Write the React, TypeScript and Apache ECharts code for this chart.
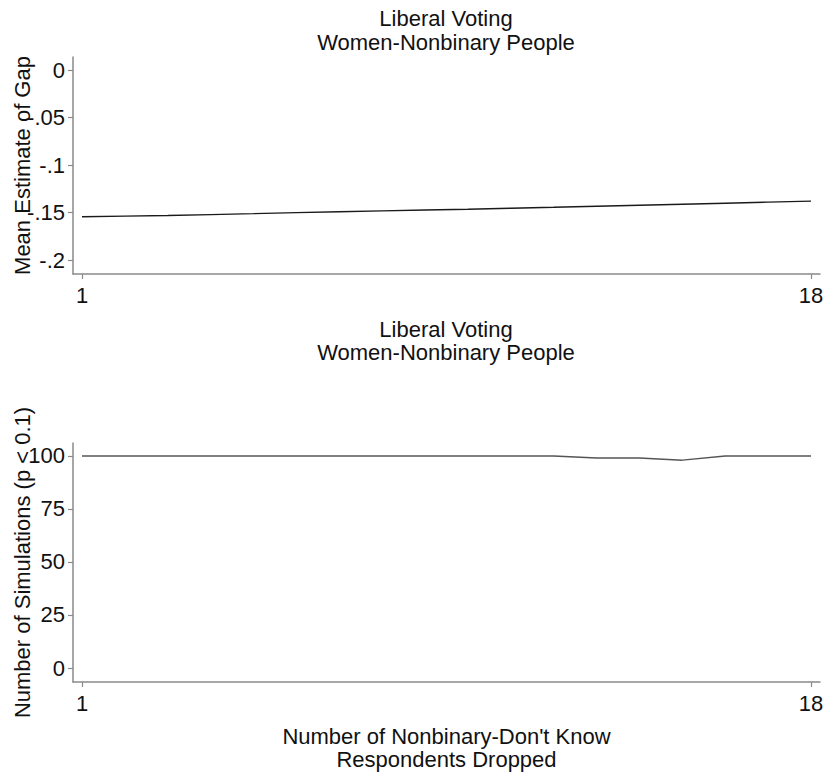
import React, { useEffect, useRef } from "react";
import * as echarts from "echarts";

const dropped = [1, 2, 3, 4, 5, 6, 7, 8, 9, 10, 11, 12, 13, 14, 15, 16, 17, 18];
const meanGap = [-0.1544, -0.1538, -0.1532, -0.1522, -0.1512, -0.1501, -0.1492, -0.1483, -0.1474, -0.1465, -0.1455, -0.1445, -0.1434, -0.1424, -0.1413, -0.1402, -0.1391, -0.138];
const simsSignificant = [100, 100, 100, 100, 100, 100, 100, 100, 100, 100, 100, 100, 99, 99, 98, 100, 100, 100];
const gapTicks = [0, -0.05, -0.1, -0.15, -0.2];
const simTicks = [0, 25, 50, 75, 100];
const xTicks = [1, 18];
const titleLines = ["Liberal Voting", "Women-Nonbinary People"];

const FONT = "'Liberation Sans', Arial, sans-serif";
const FS = 22;

function fmtGap(v: number) {
  if (v === 0) return "0";
  const s = String(Math.round(v * 100) / 100);
  return s.replace("0.", ".");
}

export default function App() {
  const ref = useRef<HTMLDivElement>(null);
  useEffect(() => {
    document.body.style.margin = "0";
    const chart = echarts.init(ref.current!, null, { renderer: "svg" });
    const axisLine = { show: true, lineStyle: { color: "#8a8a8a", width: 1.5 } };
    const axisTick = (vals: number[]) => ({ show: true, length: 5, lineStyle: { color: "#8a8a8a", width: 1.2 }, customValues: vals });
    const xAxisBase = (idx: number) => ({
      type: "value",
      gridIndex: idx,
      min: 0.79,
      max: 18.21,
      axisLine: { ...axisLine, onZero: false },
      axisTick: axisTick(xTicks),
      axisLabel: { customValues: xTicks, fontFamily: FONT, fontSize: FS, color: "#111", margin: 10 },
      splitLine: { show: false },
    });
    const titleText = (y: number, s: string) => ({
      type: "text",
      x: 446,
      y,
      style: { text: s, fontFamily: FONT, fontSize: FS, fill: "#111", align: "center", verticalAlign: "middle" },
    });
    chart.setOption({
      animation: false,
      backgroundColor: "#fff",
      graphic: [
        titleText(18, titleLines[0]),
        titleText(42, titleLines[1]),
        titleText(329, titleLines[0]),
        titleText(352, titleLines[1]),
      ],
      grid: [
        { left: 73, top: 57, width: 747, height: 217, outerBoundsMode: "none", containLabel: false },
        { left: 73, top: 443, width: 747, height: 239, outerBoundsMode: "none", containLabel: false },
      ],
      xAxis: [
        xAxisBase(0),
        {
          ...xAxisBase(1),
          name: "Number of Nonbinary-Don't Know\nRespondents Dropped",
          nameLocation: "middle",
          nameGap: 43,
          nameMoveOverlap: false,
          nameTextStyle: { fontFamily: FONT, fontSize: FS, color: "#111", lineHeight: 23 },
        },
      ],
      yAxis: [
        {
          type: "value",
          gridIndex: 0,
          min: -0.2147,
          max: 0.0137,
          axisLine,
          axisTick: axisTick(gapTicks),
          axisLabel: { customValues: gapTicks, formatter: (v: number) => fmtGap(v), fontFamily: FONT, fontSize: FS, color: "#111", margin: 8 },
          splitLine: { show: false },
          name: "Mean Estimate of Gap",
          nameLocation: "middle",
          nameGap: 40,
          nameMoveOverlap: false,
          nameTextStyle: { fontFamily: FONT, fontSize: FS, color: "#111" },
        },
        {
          type: "value",
          gridIndex: 1,
          min: -6.6,
          max: 106.1,
          axisLine,
          axisTick: axisTick(simTicks),
          axisLabel: { customValues: simTicks, fontFamily: FONT, fontSize: FS, color: "#111", margin: 8 },
          splitLine: { show: false },
          name: "Number of Simulations (p < 0.1)",
          nameLocation: "middle",
          nameGap: 40,
          nameMoveOverlap: false,
          nameTextStyle: { fontFamily: FONT, fontSize: FS, color: "#111" },
        },
      ],
      series: [
        {
          type: "line",
          xAxisIndex: 0,
          yAxisIndex: 0,
          data: dropped.map((d, i) => [d, meanGap[i]]),
          showSymbol: false,
          lineStyle: { color: "#1a1a1a", width: 1.4 },
        },
        {
          type: "line",
          xAxisIndex: 1,
          yAxisIndex: 1,
          data: dropped.map((d, i) => [d, simsSignificant[i]]),
          showSymbol: false,
          lineStyle: { color: "#555", width: 1.4 },
        },
      ],
    });
    return () => chart.dispose();
  }, []);
  return <div ref={ref} style={{ width: 828, height: 773 }} />;
}
